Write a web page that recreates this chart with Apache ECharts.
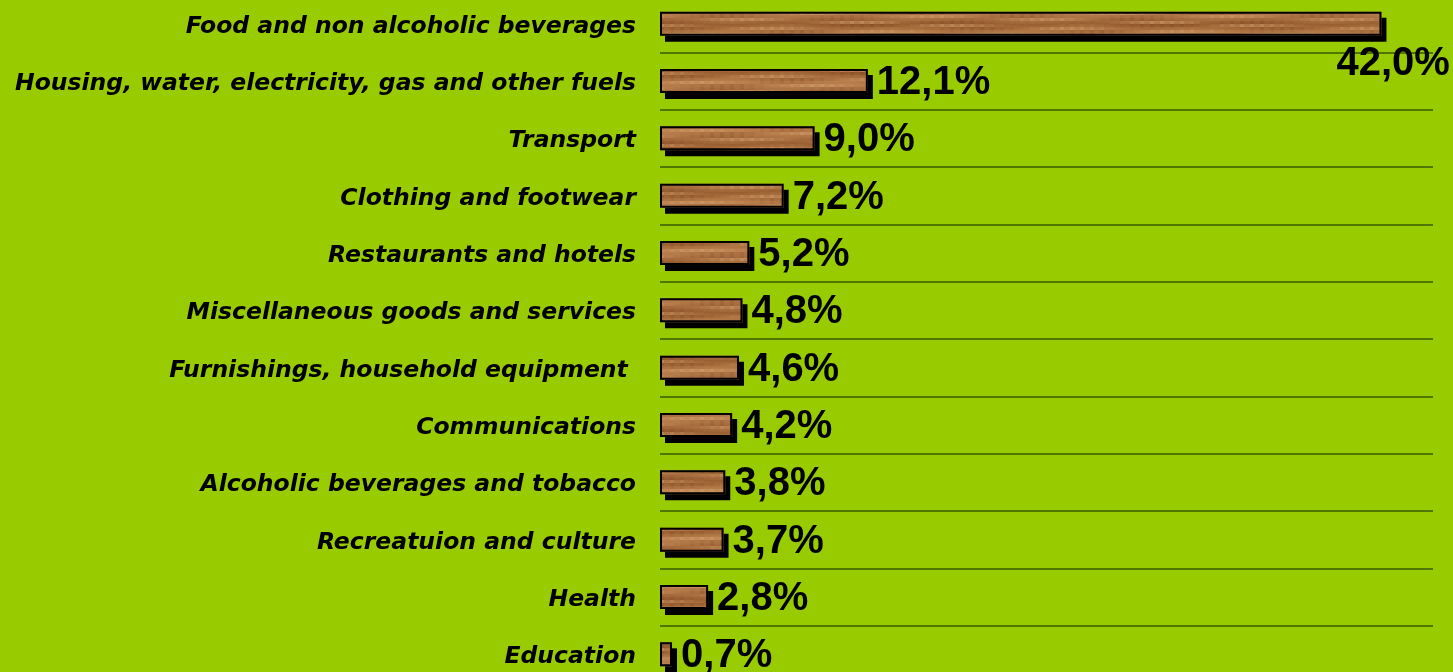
<!DOCTYPE html>
<html>
<head>
<meta charset="utf-8">
<script src="https://cdn.jsdelivr.net/npm/echarts@6/dist/echarts.min.js"></script>
<style>
  html, body { margin: 0; padding: 0; background: #99cc00; }
  #main { width: 1453px; height: 672px; }
</style>
</head>
<body>
<div id="main"></div>
<script>
var categories = [
  "Food and non alcoholic beverages",
  "Housing, water, electricity, gas and other fuels",
  "Transport",
  "Clothing and footwear",
  "Restaurants and hotels",
  "Miscellaneous goods and services",
  "Furnishings, household equipment ",
  "Communications",
  "Alcoholic beverages and tobacco",
  "Recreatuion and culture",
  "Health",
  "Education"
];
var shares = [42.0, 12.1, 9.0, 7.2, 5.2, 4.8, 4.6, 4.2, 3.8, 3.7, 2.8, 0.7];

// wood-like texture for the bars
function woodTexture() {
  var c = document.createElement("canvas");
  c.width = 300;
  c.height = 24;
  var ctx = c.getContext("2d");
  var g = ctx.createLinearGradient(0, 0, 0, 24);
  g.addColorStop(0, "#9a5f30");
  g.addColorStop(0.4, "#b97e4b");
  g.addColorStop(0.65, "#b47949");
  g.addColorStop(1, "#9c6234");
  ctx.fillStyle = g;
  ctx.fillRect(0, 0, 300, 24);
  for (var y = 0; y < 24; y += 3) {
    for (var x = 0; x < 300; x += 10) {
      var v = Math.sin(x * 0.031 + y * 0.9) * Math.cos(x * 0.011 - y * 0.45);
      ctx.fillStyle = v > 0 ? "rgba(215,165,115," + (v * 0.35) + ")" : "rgba(120,65,28," + (-v * 0.28) + ")";
      ctx.fillRect(x, y, 14, 3);
    }
  }
  return c;
}

var chart = echarts.init(document.getElementById("main"));
var labelData = shares.map(function (v, i) {
  var item = { value: v };
  if (i === 0) {
    item.label = { position: "right", offset: [-54, 40] };
  }
  return item;
});

chart.setOption({
  backgroundColor: "#99cc00",
  animation: false,
  grid: { left: 660, right: 20, top: -5, bottom: -11, outerBoundsMode: "none" },
  xAxis: {
    type: "value",
    min: 0,
    max: 45,
    show: false
  },
  yAxis: {
    type: "category",
    inverse: true,
    data: categories,
    axisLine: { show: false },
    axisTick: { show: false },
    splitLine: { show: true, lineStyle: { color: "#3a5a00", width: 1.5 } },
    axisLabel: {
      margin: 24,
      color: "#000",
      formatter: function (v) {
        return "{t|" + v + "}";
      },
      rich: {
        t: {
          fontFamily: "DejaVu Sans, sans-serif",
          fontWeight: "bold",
          fontStyle: "italic",
          fontSize: 23.5,
          padding: [6, 0, 0, 0]
        }
      }
    }
  },
  series: [
    {
      // wood fill with hard black drop shadow
      type: "bar",
      data: shares,
      barWidth: 24,
      z: 2,
      itemStyle: {
        color: { image: woodTexture(), repeat: "repeat" },
        shadowColor: "#000",
        shadowBlur: 0,
        shadowOffsetX: 5,
        shadowOffsetY: 6
      }
    },
    {
      // outline drawn on top, carries the value labels
      type: "bar",
      data: labelData,
      barWidth: 24,
      barGap: "-100%",
      z: 3,
      itemStyle: {
        color: "rgba(0,0,0,0)",
        borderColor: "#000",
        borderWidth: 2
      },
      label: {
        show: true,
        position: "right",
        distance: 9,
        offset: [0, 2],
        color: "#000",
        fontFamily: "Liberation Sans, Arial, sans-serif",
        fontWeight: "bold",
        fontSize: 40,
        formatter: function (p) {
          return p.value.toFixed(1).replace(".", ",") + "%";
        }
      }
    }
  ]
});
</script>
</body>
</html>
